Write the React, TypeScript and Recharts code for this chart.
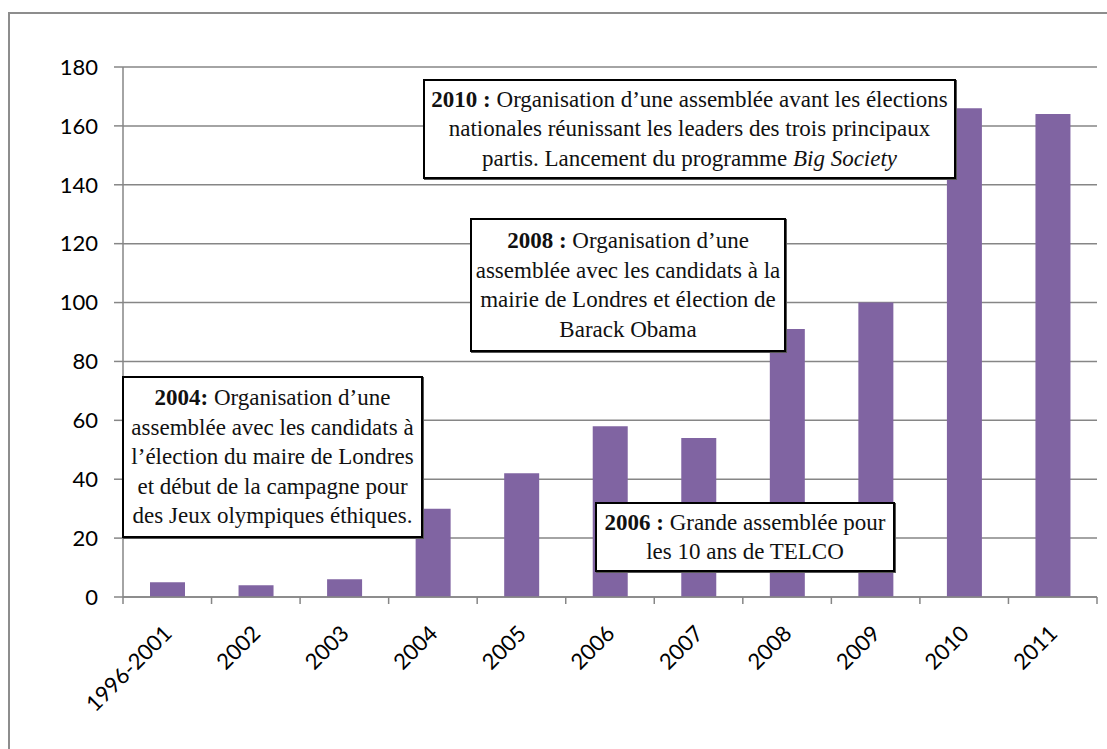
import React from "react";
import { BarChart, Bar, XAxis, YAxis, CartesianGrid } from "recharts";

const categories = ["1996-2001", "2002", "2003", "2004", "2005", "2006", "2007", "2008", "2009", "2010", "2011"];
const values = [5, 4, 6, 30, 42, 58, 54, 91, 100, 166, 164];
const yTicks = [0, 20, 40, 60, 80, 100, 120, 140, 160, 180];

const data = categories.map((c, i) => ({ name: c, value: values[i] }));

const W = 1107;
const H = 749;
const X_AXIS_H = 30;
const M = { top: 67, right: 10, bottom: 152 - X_AXIS_H, left: 0 };
const Y_AXIS_W = 123;
const BAND = (W - M.right - Y_AXIS_W) / categories.length;
const GRID = "#868686";
const SERIF = "'Liberation Serif', 'DejaVu Serif', serif";
const SANS = "Lato, 'Open Sans', sans-serif";

const XTick = (props: any) => {
  const { x, y, payload, index } = props;
  const last = index === categories.length - 1;
  return (
    <g>
      <line x1={x - BAND / 2} y1={y} x2={x - BAND / 2} y2={y + 7} stroke={GRID} strokeWidth={1.5} />
      {last && <line x1={x + BAND / 2} y1={y} x2={x + BAND / 2} y2={y + 7} stroke={GRID} strokeWidth={1.5} />}
      <text
        transform={`translate(${x + 6},${y + 38}) rotate(-45)`}
        textAnchor="end"
        fontFamily={SANS}
        fontSize={22}
        fill="#000"
      >
        {payload.value}
      </text>
    </g>
  );
};

const boxBase: React.CSSProperties = {
  position: "absolute",
  boxSizing: "border-box",
  border: "2px solid #000",
  boxShadow: "1px 1px 0 #555",
  background: "#fff",
  fontFamily: SERIF,
  fontSize: 23,
  lineHeight: "29.5px",
  textAlign: "center",
  color: "#111",
  display: "flex",
  flexDirection: "column",
  justifyContent: "center",
  whiteSpace: "nowrap",
};

export default function App() {
  return (
    <div style={{ position: "absolute", left: 0, top: 0, width: W, height: H, overflow: "hidden", background: "#fff" }}>
      <div
        style={{
          position: "absolute",
          left: 8,
          top: 12,
          width: 1200,
          height: 900,
          borderLeft: "2px solid #8d8d8d",
          borderTop: "2px solid #8d8d8d",
        }}
      />
      <div style={{ position: "absolute", left: 0, top: 0 }}>
        <BarChart width={W} height={H} data={data} margin={M} barSize={35}>
          <CartesianGrid vertical={false} stroke={GRID} strokeWidth={1.5} />
          <XAxis
            dataKey="name"
            height={X_AXIS_H}
            tickLine={false}
            tickSize={0}
            tickMargin={0}
            axisLine={{ stroke: GRID, strokeWidth: 1.5 }}
            tick={<XTick />}
            interval={0}
          />
          <YAxis
            width={Y_AXIS_W}
            domain={[0, 180]}
            ticks={yTicks}
            interval={0}
            tickSize={9}
            tickMargin={16}
            tickLine={{ stroke: GRID, strokeWidth: 1.5 }}
            axisLine={{ stroke: GRID, strokeWidth: 1.5 }}
            tick={{ fill: "#000", fontSize: 22, fontFamily: SANS }}
          />
          <Bar dataKey="value" fill="#8064A2" isAnimationActive={false} />
        </BarChart>
      </div>

      <div style={{ ...boxBase, left: 122, top: 376, width: 301, height: 162 }}>
        <div><b>2004:</b> Organisation d’une</div>
        <div>assemblée avec les candidats à</div>
        <div>l’élection du maire de Londres</div>
        <div>et début de la campagne pour</div>
        <div>des Jeux olympiques éthiques.</div>
      </div>

      <div style={{ ...boxBase, left: 470, top: 218, width: 316, height: 134 }}>
        <div><b>2008 :</b> Organisation d’une</div>
        <div>assemblée avec les candidats à la</div>
        <div>mairie de Londres et élection de</div>
        <div>Barack Obama</div>
      </div>

      <div style={{ ...boxBase, left: 423, top: 79, width: 533, height: 100 }}>
        <div><b>2010 :</b> Organisation d’une assemblée avant les élections</div>
        <div>nationales réunissant les leaders des trois principaux</div>
        <div>partis. Lancement du programme <i>Big Society</i></div>
      </div>

      <div style={{ ...boxBase, left: 595, top: 502, width: 300, height: 70 }}>
        <div><b>2006 :</b> Grande assemblée pour</div>
        <div>les 10 ans de TELCO</div>
      </div>
    </div>
  );
}
